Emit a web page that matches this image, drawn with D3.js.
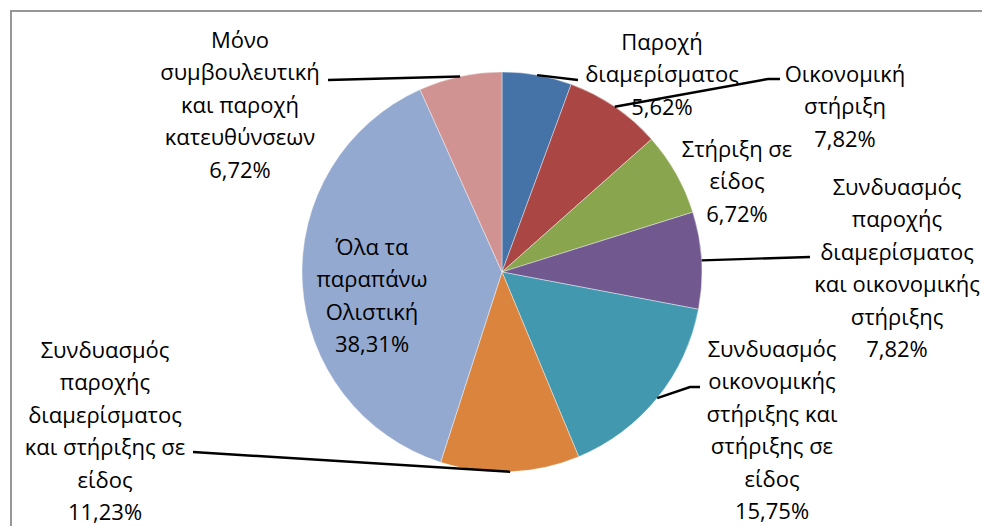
<!DOCTYPE html>
<html>
<head>
<meta charset="utf-8">
<script src="https://cdn.jsdelivr.net/npm/d3@7"></script>
<style>
  html, body { margin: 0; padding: 0; background: #fff; }
  svg text { font-family: "Open Sans", "Noto Sans", sans-serif; fill: #000; }
</style>
</head>
<body>
<script>
// pie of support types, clockwise from 12 o'clock
const categories = [
    ["Παροχή", "διαμερίσματος"],
    ["Οικονομική", "στήριξη"],
    ["Στήριξη σε", "είδος"],
    ["Συνδυασμός", "παροχής", "διαμερίσματος", "και οικονομικής", "στήριξης"],
    ["Συνδυασμός", "οικονομικής", "στήριξης και", "στήριξης σε", "είδος"],
    ["Συνδυασμός", "παροχής", "διαμερίσματος", "και στήριξης σε", "είδος"],
    ["Όλα τα", "παραπάνω", "Ολιστική"],
    ["Μόνο", "συμβουλευτική", "και παροχή", "κατευθύνσεων"],
];
const values = [5.62, 7.82, 6.72, 7.82, 15.75, 11.23, 38.31, 6.72];
const colors = ["#4572A7", "#AA4643", "#89A54E", "#71588F", "#4198AF", "#DB843D", "#93A9CF", "#D19392"];

const W = 982, H = 526;
const cx = 502, cy = 272, R = 200;
const LINE_H = 32.5;

// label block: centre x, y of first line; leader end point (null = no leader)
const labelLayout = [
    { x: 662, y: 42,  lead: [[578, 80]] },
    { x: 845, y: 74,  lead: [[768, 79], [780, 79]] },
    { x: 737, y: 149, lead: null },
    { x: 897, y: 187, lead: [[810, 257]] },
    { x: 772, y: 349, lead: [[690, 387], [700, 387]] },
    { x: 105, y: 350, lead: [[193, 452]] },
    { x: 372, y: 247, lead: null },
    { x: 240, y: 40,  lead: [[328, 80]] },
];

const fmt = v => d3.format(".2f")(v).replace(".", ",") + "%";

const svg = d3.select("body").append("svg")
    .attr("width", W).attr("height", H);

// chart frame (runs off right/bottom edges)
svg.append("rect")
    .attr("x", 11).attr("y", 11)
    .attr("width", W).attr("height", H)
    .attr("fill", "none")
    .attr("stroke", "#8c8c8c")
    .attr("stroke-width", 1.8);

const pie = d3.pie().sort(null).value(d => d);
const arcs = pie(values);
const arc = d3.arc().innerRadius(0).outerRadius(R);

const g = svg.append("g").attr("transform", `translate(${cx},${cy})`);

g.selectAll("path")
    .data(arcs)
    .join("path")
    .attr("d", arc)
    .attr("fill", (d, i) => colors[i])
    .attr("stroke", "#fff")
    .attr("stroke-width", 0.4);

// leader lines start at the middle of each slice's arc
const leaders = svg.append("g");
arcs.forEach((d, i) => {
    const lay = labelLayout[i];
    if (!lay.lead) return;
    const a = (d.startAngle + d.endAngle) / 2;
    const start = [cx + R * Math.sin(a), cy - R * Math.cos(a)];
    leaders.append("path")
        .attr("d", d3.line()([start, ...lay.lead]))
        .attr("fill", "none")
        .attr("stroke", "#000")
        .attr("stroke-width", 2.4);
});

// labels
const labels = svg.append("g");
categories.forEach((lines, i) => {
    const lay = labelLayout[i];
    const all = [...lines, fmt(values[i])];
    const t = labels.append("text")
        .attr("text-anchor", "middle")
        .attr("font-size", 22);
    all.forEach((s, j) => {
        t.append("tspan")
            .attr("x", lay.x)
            .attr("y", lay.y + j * LINE_H)
            .attr("dy", "0.35em")
            .text(s);
    });
});
</script>
</body>
</html>
